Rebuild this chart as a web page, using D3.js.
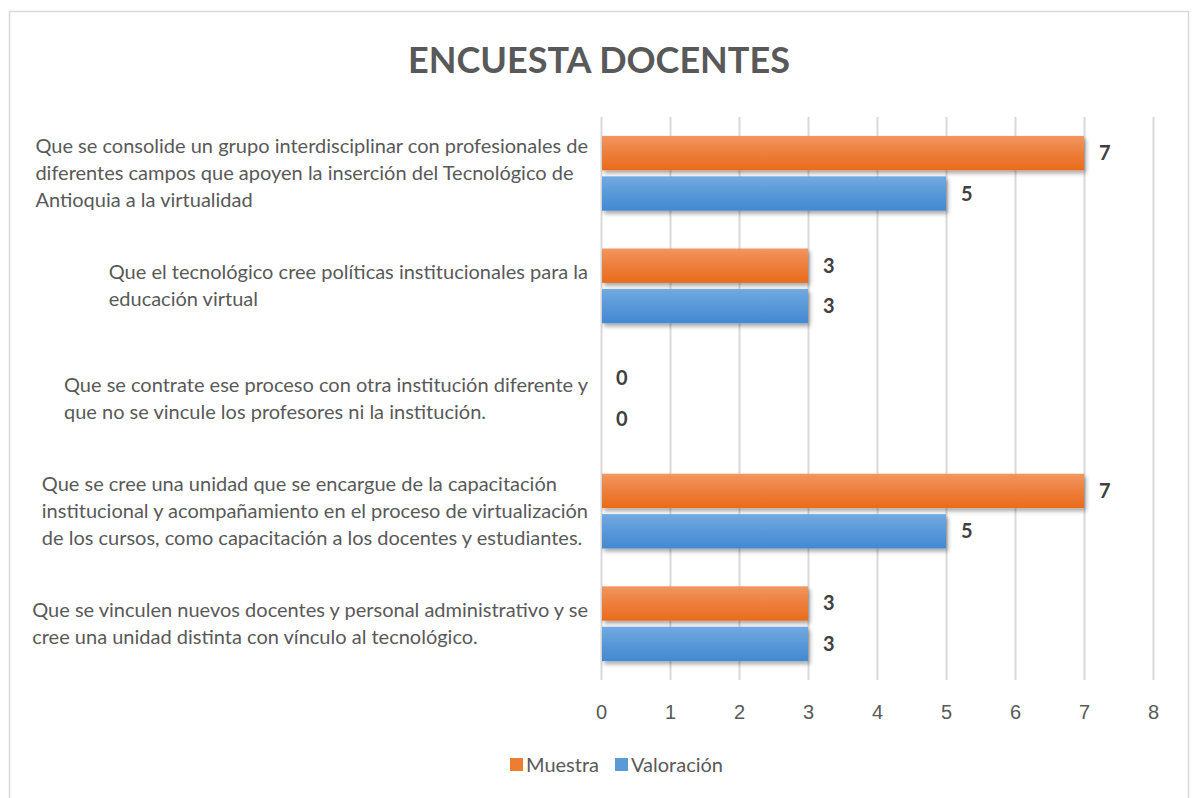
<!DOCTYPE html>
<html>
<head>
<meta charset="utf-8">
<script src="https://cdn.jsdelivr.net/npm/d3@7"></script>
<style>
  body { margin: 0; background: #fff; }
  svg { display: block; font-family: Lato, "Open Sans", sans-serif; }
</style>
</head>
<body>
<svg id="area" width="1192" height="798"></svg>
<script>
const title = 'ENCUESTA DOCENTES';
const categories = [
  'Que se consolide un grupo interdisciplinar con profesionales de\ndiferentes campos que apoyen la inserción del Tecnológico de\nAntioquia a la virtualidad',
  'Que el tecnológico cree políticas institucionales para la\neducación virtual',
  'Que se contrate ese proceso con otra institución diferente y\nque no se vincule los profesores ni la institución.',
  'Que se cree una unidad que se encargue de la capacitación\ninstitucional y acompañamiento en el proceso de virtualización\nde los cursos, como capacitación a los docentes y estudiantes.',
  'Que se vinculen nuevos docentes y personal administrativo y se\ncree una unidad distinta con vínculo al tecnológico.',
];
const seriesNames = ['Muestra', 'Valoración'];
const muestra = [7, 3, 0, 7, 3];
const valoracion = [5, 3, 0, 5, 3];
const ticks = [0, 1, 2, 3, 4, 5, 6, 7, 8];

const svg = d3.select('#area');
const margin = { top: 117, bottom: 118, left: 601, right: 39 };
const width = 1192 - margin.left - margin.right;
const height = 798 - margin.top - margin.bottom;

// frame
svg.append('rect')
  .attr('x', 9.5).attr('y', 11.5)
  .attr('width', 1179).attr('height', 800)
  .attr('fill', '#fff')
  .attr('stroke', '#d9d9d9')
  .attr('stroke-width', 1.5);

const defs = svg.append('defs');
const grads = [['gOrange', '#f29660', '#e96b1c'], ['gBlue', '#72aae0', '#4389d1']];
grads.forEach(([id, c0, c1]) => {
  const g = defs.append('linearGradient').attr('id', id)
    .attr('x1', 0).attr('y1', 0).attr('x2', 0).attr('y2', 1);
  g.append('stop').attr('offset', '0%').attr('stop-color', c0);
  g.append('stop').attr('offset', '50%').attr('stop-color', d3.interpolateRgb(c0, c1)(0.55));
  g.append('stop').attr('offset', '100%').attr('stop-color', c1);
});
defs.append('filter').attr('id', 'shadow')
  .attr('x', '-5%').attr('y', '-20%').attr('width', '115%').attr('height', '160%')
  .append('feDropShadow')
  .attr('dx', 2).attr('dy', 3).attr('stdDeviation', 2)
  .attr('flood-color', '#000').attr('flood-opacity', 0.35);

const x = d3.scaleLinear()
  .domain([0, 8])
  .range([margin.left, margin.left + width]);

const y = d3.scaleBand()
  .domain(d3.range(categories.length))
  .range([margin.top, margin.top + height])
  .paddingInner(0.336)
  .paddingOuter(0.168);

const ys = d3.scaleBand()
  .domain(seriesNames)
  .range([0, y.bandwidth()])
  .paddingInner(0.15);

const color = { Muestra: 'url(#gOrange)', 'Valoración': 'url(#gBlue)' };
const swatch = { Muestra: '#ed7d31', 'Valoración': '#5b9bd5' };

// title
svg.append('text')
  .attr('x', 599).attr('y', 73)
  .attr('text-anchor', 'middle')
  .attr('fill', '#595959')
  .style('font-size', '36px')
  .style('font-weight', 'bold')
  .text(title);

// grid + axis
const xAxis = d3.axisBottom(x).tickValues(ticks).tickSize(-height).tickPadding(25);
const gx = svg.append('g')
  .attr('transform', `translate(0, ${margin.top + height})`)
  .call(xAxis);
gx.select('.domain').remove();
gx.selectAll('.tick line').attr('stroke', '#d9d9d9').attr('stroke-width', 2);
gx.selectAll('.tick text')
  .attr('fill', '#595959')
  .style('font-size', '20px');

const data = [];
categories.forEach((c, i) => {
  data.push({ i, s: 'Muestra', v: muestra[i] });
  data.push({ i, s: 'Valoración', v: valoracion[i] });
});

svg.selectAll('rect.bar')
  .data(data.filter((d) => d.v > 0))
  .enter().append('rect')
  .attr('class', 'bar')
  .attr('x', x(0) + 1)
  .attr('y', (d) => y(d.i) + ys(d.s))
  .attr('width', (d) => x(d.v) - x(0) - 1)
  .attr('height', ys.bandwidth())
  .attr('fill', (d) => color[d.s])
  .attr('filter', 'url(#shadow)');

svg.selectAll('text.val')
  .data(data)
  .enter().append('text')
  .attr('class', 'val')
  .attr('x', (d) => x(d.v) + 15)
  .attr('y', (d) => y(d.i) + ys(d.s) + ys.bandwidth() / 2)
  .attr('dy', '0.35em')
  .attr('fill', '#404040')
  .style('font-size', '20px')
  .style('font-weight', 'bold')
  .text((d) => d.v);

// category labels: left-aligned block, pushed against the axis
const lineH = 27;
categories.forEach((c, i) => {
  const lines = c.split('\n');
  const cy = y(i) + y.bandwidth() / 2;
  const t = svg.append('text')
    .attr('fill', '#595959')
    .style('font-size', '20px');
  const spans = lines.map((l, k) => t.append('tspan')
    .attr('y', cy + (k - (lines.length - 1) / 2) * lineH)
    .attr('dy', '0.35em')
    .text(l));
  const maxW = d3.max(spans, (s) => s.node().getComputedTextLength());
  spans.forEach((s) => s.attr('x', 588 - maxW));
});

// legend
const legend = svg.append('g').attr('transform', 'translate(510, 765)');
let lx = 0;
seriesNames.forEach((s) => {
  legend.append('rect')
    .attr('x', lx).attr('y', -7)
    .attr('width', 13).attr('height', 13)
    .attr('fill', swatch[s]);
  const t = legend.append('text')
    .attr('x', lx + 16).attr('y', 0)
    .attr('dy', '0.35em')
    .attr('fill', '#595959')
    .style('font-size', '20px')
    .text(s);
  lx += 16 + t.node().getComputedTextLength() + 16;
});
</script>
</body>
</html>
